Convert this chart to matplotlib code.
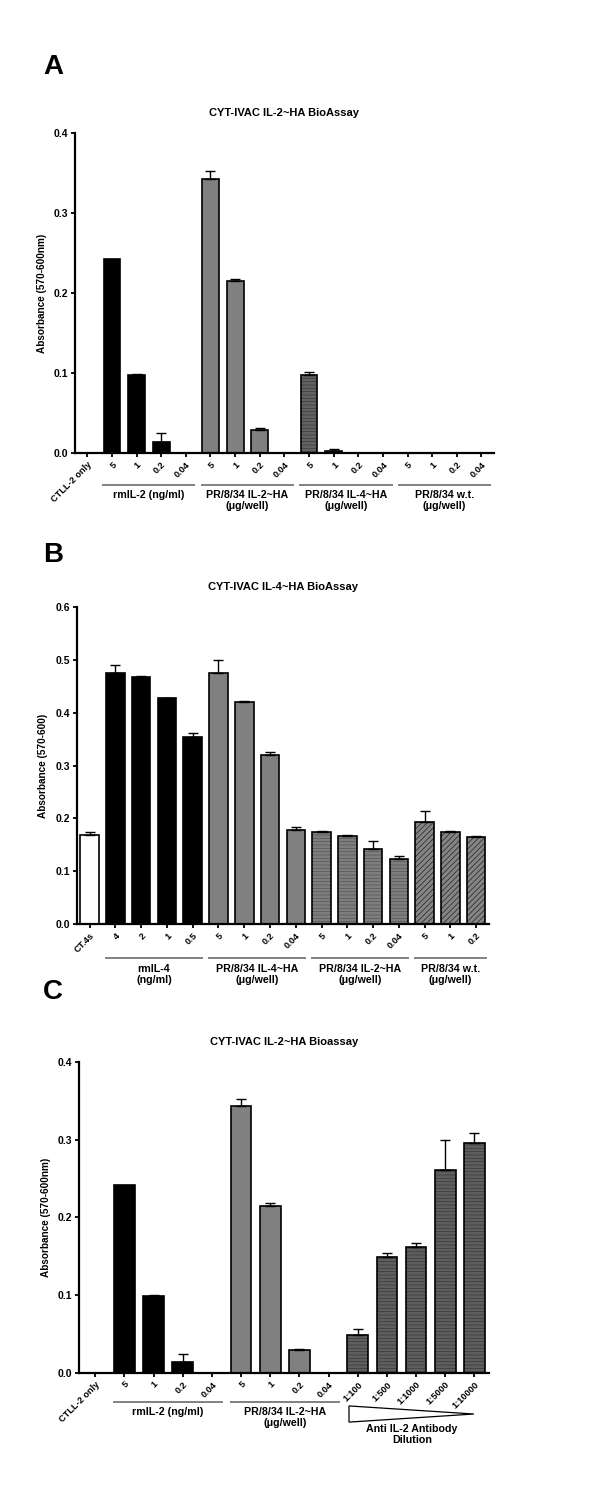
import numpy as np
import matplotlib
matplotlib.use("Agg")
import matplotlib.pyplot as plt
from matplotlib.patches import Polygon

plt.rcParams['font.family'] = ['Liberation Sans', 'DejaVu Sans']
plt.rcParams['font.weight'] = 'bold'
plt.rcParams['axes.labelweight'] = 'bold'
plt.rcParams['hatch.linewidth'] = 0.5

# ---------------- data ----------------
# Panel A
a_labels = ['CTLL-2 only', '5', '1', '0.2', '0.04', '5', '1', '0.2', '0.04',
            '5', '1', '0.2', '0.04', '5', '1', '0.2', '0.04']
a_vals = [0, 0.242, 0.098, 0.014, 0, 0.343, 0.215, 0.029, 0,
          0.097, 0.003, 0, 0, 0, 0, 0, 0]
a_err = [0, 0, 0.001, 0.011, 0, 0.009, 0.003, 0.002, 0,
         0.004, 0.002, 0, 0, 0, 0, 0, 0]
a_groups = ['rmIL-2 (ng/ml)', 'PR/8/34 IL-2~HA\n(\u03bcg/well)',
            'PR/8/34 IL-4~HA\n(\u03bcg/well)', 'PR/8/34 w.t.\n(\u03bcg/well)']

# Panel B
b_labels = ['CT.4s', '4', '2', '1', '0.5', '5', '1', '0.2', '0.04',
            '5', '1', '0.2', '0.04', '5', '1', '0.2']
b_vals = [0.168, 0.475, 0.468, 0.427, 0.354, 0.476, 0.421, 0.320, 0.177,
          0.175, 0.167, 0.142, 0.123, 0.193, 0.174, 0.165]
b_err = [0.006, 0.015, 0.001, 0.001, 0.008, 0.023, 0.002, 0.006, 0.007,
         0.001, 0.001, 0.016, 0.006, 0.020, 0.002, 0.002]
b_groups = ['rmIL-4\n(ng/ml)', 'PR/8/34 IL-4~HA\n(\u03bcg/well)',
            'PR/8/34 IL-2~HA\n(\u03bcg/well)', 'PR/8/34 w.t.\n(\u03bcg/well)']

# Panel C
c_labels = ['CTLL-2 only', '5', '1', '0.2', '0.04', '5', '1', '0.2', '0.04',
            '1:100', '1:500', '1:1000', '1:5000', '1:10000']
c_vals = [0, 0.242, 0.099, 0.014, 0, 0.343, 0.215, 0.029, 0,
          0.049, 0.149, 0.162, 0.261, 0.296]
c_err = [0, 0, 0.001, 0.011, 0, 0.009, 0.004, 0.002, 0,
         0.008, 0.005, 0.005, 0.039, 0.013]
c_groups = ['rmIL-2 (ng/ml)', 'PR/8/34 IL-2~HA\n(\u03bcg/well)']

# styles: (face, hatch, hatch colour)
a_style = [('white', '', 'k')] + [('black', '', 'k')] * 4 + \
          [('#808080', '', 'k')] * 4 + [('#626262', '-----', '#3a3a3a')] * 4 + \
          [('#808080', '', 'k')] * 4
b_style = [('white', '', 'k')] + [('black', '', 'k')] * 4 + \
          [('#808080', '', 'k')] * 4 + [('#7e7e7e', '-----', '#555555')] * 4 + \
          [('#858585', '//////', '#222222')] * 3
c_style = [('white', '', 'k')] + [('black', '', 'k')] * 4 + \
          [('#808080', '', 'k')] * 4 + [('#5e5e5e', '-----', '#3a3a3a')] * 5

fig = plt.figure(figsize=(6, 15.01), dpi=100)


def panel(rect, labels, vals, err, style, ymax, ylabel, title, letter, letter_y,
          width):
    ax = fig.add_axes(rect)
    x = np.arange(len(vals))
    for i in x:
        fc, h, hc = style[i]
        if h:
            # hatch drawn in its own colour, outline drawn on top
            ax.bar(i, vals[i], width=width, color=fc, edgecolor=hc,
                   linewidth=0, hatch=h, zorder=2)
            ax.bar(i, vals[i], width=width, fill=False, edgecolor='black',
                   linewidth=1.2, zorder=2.5)
        else:
            ax.bar(i, vals[i], width=width, color=fc, edgecolor='black',
                   linewidth=1.2, zorder=2)
        if err[i] > 0:
            ax.errorbar(i, vals[i], yerr=[[0], [err[i]]], fmt='none',
                        ecolor='black', elinewidth=1, capsize=3.5,
                        capthick=1, zorder=3)
    ax.set_ylim(0, ymax)
    ax.set_yticks(np.arange(0, ymax + 0.001, 0.1))
    ax.set_yticklabels(['%.1f' % v for v in np.arange(0, ymax + 0.001, 0.1)],
                       fontsize=7.5)
    ax.set_xticks(x)
    ax.set_xticklabels(labels, rotation=45, ha='right', va='top',
                       rotation_mode='anchor', fontsize=6.6)
    for s in ['top', 'right']:
        ax.spines[s].set_visible(False)
    for s in ['left', 'bottom']:
        ax.spines[s].set_linewidth(1.6)
    ax.tick_params(width=1.3, length=3, pad=2)
    ax.set_ylabel(ylabel, fontsize=7.2, labelpad=5)
    ax.set_title(title, fontsize=8, fontweight='bold', pad=12)
    fig.text(0.072, letter_y, letter, fontsize=20, fontweight='bold',
             ha='left', va='bottom')
    return ax


def group_lines(ax, starts, ends, names, line_y, text_y, pad=0.35):
    tr = ax.get_xaxis_transform()
    for s, e, n in zip(starts, ends, names):
        ax.plot([s - pad, e + pad], [line_y, line_y], color='#808080', lw=1.4,
                transform=tr, clip_on=False)
        ax.text((s + e) / 2, text_y, n, transform=tr, ha='center', va='top',
                fontsize=7.7, linespacing=1.1)


# ---------------- A ----------------
axA = panel([0.125, 0.6982, 0.698, 0.2132], a_labels, a_vals, a_err, a_style,
            0.4, 'Absorbance (570-600nm)', 'CYT-IVAC IL-2~HA BioAssay', 'A',
            1 - 80 / 1501, 0.68)
axA.set_xlim(-0.5, 16.5)
group_lines(axA, [1, 5, 9, 13], [4, 8, 12, 16], a_groups, -0.1, -0.116)

# ---------------- B ----------------
axB = panel([0.128, 0.3844, 0.687, 0.2112], b_labels, b_vals, b_err, b_style,
            0.6, 'Absorbance (570-600)', 'CYT-IVAC IL-4~HA BioAssay', 'B',
            1 - 568 / 1501, 0.72)
axB.set_xlim(-0.5, 15.5)
group_lines(axB, [1, 5, 9, 13], [4, 8, 12, 15], b_groups, -0.107, -0.126,
            pad=0.37)

# ---------------- C ----------------
axC = panel([0.132, 0.0853, 0.683, 0.2072], c_labels, c_vals, c_err, c_style,
            0.4, 'Absorbance (570-600nm)', 'CYT-IVAC IL-2~HA Bioassay', 'C',
            1 - 1005 / 1501, 0.71)
axC.set_xlim(-0.55, 13.5)
group_lines(axC, [1, 5], [4, 8], c_groups, -0.093, -0.111)
tri = Polygon([[8.7, -0.106], [8.7, -0.158], [12.98, -0.132]], closed=True,
              facecolor='white', edgecolor='black', lw=0.9,
              transform=axC.get_xaxis_transform(), clip_on=False)
axC.add_patch(tri)
axC.text(10.86, -0.164, 'Anti IL-2 Antibody\nDilution',
         transform=axC.get_xaxis_transform(), ha='center', va='top',
         fontsize=7.7, linespacing=1.1)

fig.savefig('out.png', dpi=100)
